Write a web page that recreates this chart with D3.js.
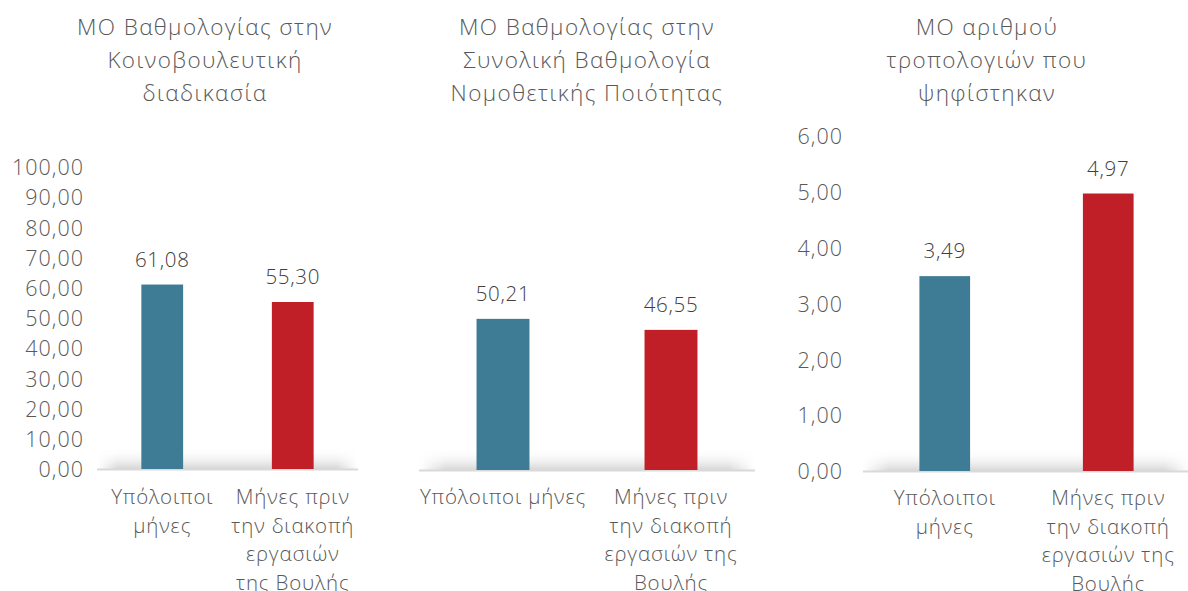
<!DOCTYPE html>
<html>
<head>
<meta charset="utf-8">
<script src="https://cdn.jsdelivr.net/npm/d3@7"></script>
<style>
  body { margin: 0; background: #fff; }
  svg { font-family: "Open Sans", "Noto Sans", sans-serif; font-weight: 300; }
</style>
</head>
<body>
<svg width="1188" height="591"></svg>
<script>
// data
var titles = [
  ["ΜΟ Βαθμολογίας στην", "Κοινοβουλευτική", "διαδικασία"],
  ["ΜΟ Βαθμολογίας στην", "Συνολική Βαθμολογία", "Νομοθετικής Ποιότητας"],
  ["ΜΟ αριθμού", "τροπολογιών που", "ψηφίστηκαν"]
];
var categories = ["Υπόλοιποι μήνες", "Μήνες πριν την διακοπή εργασιών της Βουλής"];
var catLines = [
  [["Υπόλοιποι", "μήνες"], ["Μήνες πριν", "την διακοπή", "εργασιών", "της Βουλής"]],
  [["Υπόλοιποι μήνες"], ["Μήνες πριν", "την διακοπή", "εργασιών της", "Βουλής"]],
  [["Υπόλοιποι", "μήνες"], ["Μήνες πριν", "την διακοπή", "εργασιών της", "Βουλής"]]
];
var parlValues = [61.08, 55.30];
var qualityValues = [50.21, 46.55];
var amendValues = [3.49, 4.97];
var ticks1 = [0, 10, 20, 30, 40, 50, 60, 70, 80, 90, 100];
var ticks3 = [0, 1, 2, 3, 4, 5, 6];
var colors = ["#3E7B94", "#C01F27"];

var svg = d3.select("svg");
var fmt = function(v) { return d3.format(".2f")(v).replace(".", ","); };

var defs = svg.append("defs");
var gv = defs.append("linearGradient").attr("id", "shv").attr("x1", 0).attr("y1", 0).attr("x2", 0).attr("y2", 1);
gv.append("stop").attr("offset", "0%").attr("stop-color", "#fff").attr("stop-opacity", 0);
gv.append("stop").attr("offset", "100%").attr("stop-color", "#d6d6d6").attr("stop-opacity", 1);
var mh = defs.append("linearGradient").attr("id", "shh");
mh.append("stop").attr("offset", "0%").attr("stop-color", "#000");
mh.append("stop").attr("offset", "8%").attr("stop-color", "#fff");
mh.append("stop").attr("offset", "92%").attr("stop-color", "#fff");
mh.append("stop").attr("offset", "100%").attr("stop-color", "#000");
defs.append("mask").attr("id", "shm").attr("maskContentUnits", "objectBoundingBox")
  .append("rect").attr("width", 1).attr("height", 1).attr("fill", "url(#shh)");

var panels = [
  {values: parlValues, max: 100, ticks: ticks1, x0: 97, x1: 358, top: 167, base: 469, axisX: 84,
   pad: 0.68, titleX: 205, catY: 497, lab: catLines[0], title: titles[0]},
  {values: qualityValues, max: 100, ticks: null, x0: 419, x1: 755, top: 169, base: 470, axisX: 0,
   pad: 0.685, titleX: 587, catY: 497, lab: catLines[1], title: titles[1]},
  {values: amendValues, max: 6, ticks: ticks3, x0: 863, x1: 1190, top: 136, base: 471, axisX: 843,
   pad: 0.69, titleX: 987, catY: 498, lab: catLines[2], title: titles[2]}
];

panels.forEach(function(p) {
  var g = svg.append("g");
  var x = d3.scaleBand().domain(categories).range([p.x0, p.x1]).paddingInner(p.pad).paddingOuter(p.pad / 2);
  var y = d3.scaleLinear().domain([0, p.max]).range([p.base, p.top]);

  // title
  g.append("text")
    .attr("text-anchor", "middle")
    .attr("fill", "#595959")
    .attr("font-size", 22.5)
    .attr("letter-spacing", 1.4)
    .selectAll("tspan").data(p.title).enter().append("tspan")
      .attr("x", p.titleX)
      .attr("y", function(d, i) { return 35 + i * 33; })
      .text(function(d) { return d; });

  // floor shadow
  g.append("rect")
    .attr("x", p.x0).attr("y", p.base - 22)
    .attr("width", p.x1 - p.x0).attr("height", 22)
    .attr("fill", "url(#shv)").attr("mask", "url(#shm)");
  g.append("line")
    .attr("x1", p.x0).attr("x2", p.x1)
    .attr("y1", p.base + 0.5).attr("y2", p.base + 0.5)
    .attr("stroke", "#d9d9d9").attr("stroke-width", 2);

  // y axis
  if (p.ticks) {
    var ax = g.append("g")
      .attr("transform", "translate(" + (p.axisX + 9) + ",0)")
      .call(d3.axisLeft(y).tickValues(p.ticks).tickFormat(fmt).tickSize(0).tickPadding(9))
      .attr("font-family", null).attr("font-size", null);
    ax.select(".domain").remove();
    ax.selectAll("text").attr("font-size", 21.5).attr("fill", "#595959")
      .attr("letter-spacing", 1).attr("dy", "0.36em");
  }

  // bars
  g.selectAll(".bar").data(p.values).enter().append("rect")
    .attr("x", function(d, i) { return x(categories[i]); })
    .attr("y", function(d) { return y(d); })
    .attr("width", x.bandwidth())
    .attr("height", function(d) { return p.base - y(d); })
    .attr("fill", function(d, i) { return colors[i]; });

  // value labels
  g.selectAll(".val").data(p.values).enter().append("text")
    .attr("x", function(d, i) { return x(categories[i]) + x.bandwidth() / 2; })
    .attr("y", function(d) { return y(d) - 18; })
    .attr("text-anchor", "middle")
    .attr("font-size", 20.5)
    .attr("letter-spacing", 0.7)
    .attr("fill", "#404040")
    .text(fmt);

  // category labels
  p.lab.forEach(function(lines, i) {
    g.append("text")
      .attr("text-anchor", "middle")
      .attr("fill", "#595959")
      .attr("font-size", 20.5)
      .attr("letter-spacing", 0.8)
      .selectAll("tspan").data(lines).enter().append("tspan")
        .attr("x", x(categories[i]) + x.bandwidth() / 2)
        .attr("y", function(d, k) { return p.catY + 7 + k * 28.7; })
        .text(function(d) { return d; });
  });
});
</script>
</body>
</html>
